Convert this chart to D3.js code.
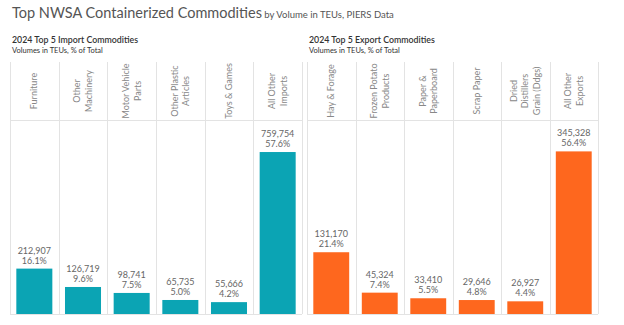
<!DOCTYPE html>
<html>
<head>
<meta charset="utf-8">
<title>Top NWSA Containerized Commodities</title>
<style>
  body { margin: 0; background: #fff; }
  svg { display: block; font-family: Lato, "Open Sans", sans-serif; }
  .divider { stroke: #e3e3e3; stroke-width: 1; }
  .head { fill: #888; font-size: 9px; }
  .val { fill: #666; font-size: 9px; }
</style>
</head>
<body>
<script src="https://cdn.jsdelivr.net/npm/d3@7"></script>
<script>
// import side
const importCats = ["Furniture", "Other\nMachinery", "Motor Vehicle\nParts", "Other Plastic\nArticles", "Toys & Games", "All Other\nImports"];
const importTeus = [212907, 126719, 98741, 65735, 55666, 759754];
const importPct  = ["16.1%", "9.6%", "7.5%", "5.0%", "4.2%", "57.6%"];

// export side
const exportCats = ["Hay & Forage", "Frozen Potato\nProducts", "Paper &\nPaperboard", "Scrap Paper", "Dried\nDistillers\nGrain (Ddgs)", "All Other\nExports"];
const exportTeus = [131170, 45324, 33410, 29646, 26927, 345328];
const exportPct  = ["21.4%", "7.4%", "5.5%", "4.8%", "4.4%", "56.4%"];

const W = 624, H = 325;
const headTop = 62, headBottom = 120, base = 314;

const svg = d3.select("body").append("svg")
  .attr("width", W)
  .attr("height", H);

// title
const title = svg.append("text")
  .attr("x", 12)
  .attr("y", 18)
  .attr("fill", "#555");
title.append("tspan").attr("font-size", 14.5).text("Top NWSA Containerized Commodities");
title.append("tspan").attr("font-size", 9.5).text(" by Volume in TEUs, PIERS Data");

function panel(opts) {
  const g = svg.append("g");

  g.append("text")
    .attr("x", opts.left + 2)
    .attr("y", 43)
    .attr("fill", "#333")
    .attr("font-size", 8.8)
    .attr("font-weight", 600)
    .text(opts.title);
  g.append("text")
    .attr("x", opts.left + 2)
    .attr("y", 53)
    .attr("fill", "#333")
    .attr("font-size", 7.5)
    .text("Volumes in TEUs, % of Total");

  const cols = d3.scaleBand()
    .domain(opts.cats)
    .range([opts.left, opts.right]);
  const bars = d3.scaleBand()
    .domain(opts.cats)
    .range([opts.left, opts.right])
    .paddingInner(0.26)
    .paddingOuter(0.13);
  const y = d3.scaleLinear()
    .domain([0, opts.max])
    .range([base, headBottom]);

  // column dividers and header rule
  const edges = opts.cats.map(c => cols(c)).concat([opts.right]);
  g.selectAll(".divider-v")
    .data(edges)
    .enter()
    .append("line")
    .attr("class", "divider")
    .attr("x1", d => Math.round(d) + 0.5)
    .attr("x2", d => Math.round(d) + 0.5)
    .attr("y1", headTop)
    .attr("y2", base);
  g.append("line")
    .attr("class", "divider")
    .attr("x1", opts.left).attr("x2", opts.right)
    .attr("y1", headBottom + 0.5).attr("y2", headBottom + 0.5);
  g.append("line")
    .attr("class", "divider")
    .attr("x1", opts.left).attr("x2", opts.right)
    .attr("y1", base + 0.5).attr("y2", base + 0.5);

  // rotated column headers
  const heads = g.selectAll(".head")
    .data(opts.cats)
    .enter()
    .append("text")
    .attr("class", "head")
    .attr("text-anchor", "middle")
    .attr("transform", d => `translate(${cols(d) + cols.bandwidth() / 2},${(headTop + headBottom) / 2}) rotate(-90)`);
  heads.each(function (d) {
    const lines = d.split("\n");
    d3.select(this).selectAll("tspan")
      .data(lines)
      .enter()
      .append("tspan")
      .attr("x", 0)
      .attr("y", (l, i) => (i - (lines.length - 1) / 2) * 11.5)
      .attr("dy", "0.35em")
      .text(l => l);
  });

  // bars
  g.selectAll(".bar")
    .data(opts.cats)
    .enter()
    .append("rect")
    .attr("class", "bar")
    .attr("x", d => bars(d))
    .attr("width", bars.bandwidth())
    .attr("y", (d, i) => y(opts.teus[i]))
    .attr("height", (d, i) => base - y(opts.teus[i]))
    .attr("fill", opts.color);

  // value labels
  const labels = g.selectAll(".val")
    .data(opts.cats)
    .enter()
    .append("text")
    .attr("class", "val")
    .attr("text-anchor", "middle")
    .attr("x", d => bars(d) + bars.bandwidth() / 2)
    .attr("y", (d, i) => y(opts.teus[i]) - 15);
  labels.append("tspan")
    .attr("x", d => bars(d) + bars.bandwidth() / 2)
    .text((d, i) => d3.format(",")(opts.teus[i]));
  labels.append("tspan")
    .attr("x", d => bars(d) + bars.bandwidth() / 2)
    .attr("dy", 10)
    .text((d, i) => opts.pct[i]);
}

panel({
  left: 10, right: 302,
  title: "2024 Top 5 Import Commodities",
  cats: importCats, teus: importTeus, pct: importPct,
  max: 910000, color: "#0ba4b4"
});

panel({
  left: 307, right: 598,
  title: "2024 Top 5 Export Commodities",
  cats: exportCats, teus: exportTeus, pct: exportPct,
  max: 412000, color: "#fe671e"
});
</script>
</body>
</html>
